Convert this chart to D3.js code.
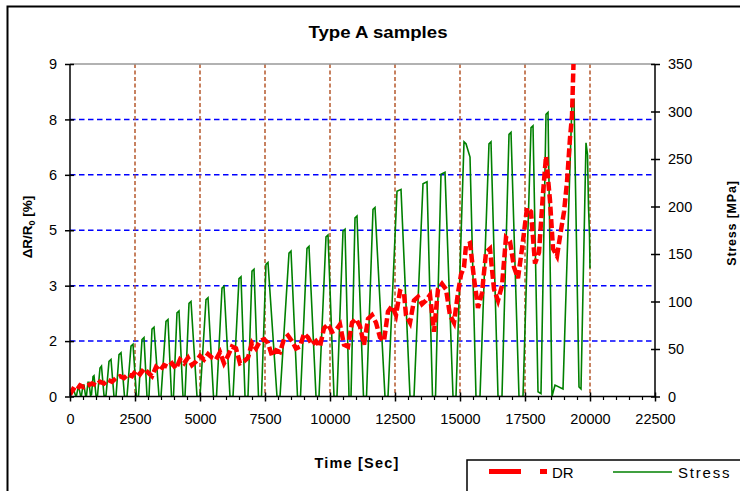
<!DOCTYPE html>
<html>
<head>
<meta charset="utf-8">
<script src="https://cdn.jsdelivr.net/npm/d3@7"></script>
<style>
  html, body { margin: 0; padding: 0; background: #fff; }
  svg { display: block; font-family: "Liberation Sans", Arial, sans-serif; }
</style>
</head>
<body>
<svg id="chart" width="740" height="491"></svg>
<script>
// ---------- data ----------
const title = "Type A samples";
const xTickValues = [0, 2500, 5000, 7500, 10000, 12500, 15000, 17500, 20000, 22500];
const leftTickValues = [0, 1.5, 3, 4.5, 6, 7.5, 9];
const leftTickLabels = ["0", "2", "3", "5", "6", "8", "9"];
const rightTickValues = [0, 50, 100, 150, 200, 250, 300, 350];

// Stress [MPa] vs time [s]
const stressTime = [
  0, 115, 154, 212, 250, 308, 346, 404, 442, 500, 538, 596, 635, 692, 731, 788, 827,
  885, 923, 1000, 1058, 1154, 1211, 1308, 1385, 1500, 1577, 1692, 1769,
  1885, 1962, 2096, 2192, 2346, 2423, 2558, 2635, 2769, 2846, 2962, 3038,
  3154, 3231, 3423, 3500, 3692, 3769, 3904, 3981, 4115, 4192, 4346, 4423,
  4577, 4654, 4885, 5000, 5231, 5308, 5519, 5635, 5846, 5923, 6154, 6269,
  6500, 6577, 6731, 6846, 7000, 7077, 7250, 7365, 7538, 7615, 7962, 8077,
  8423, 8500, 8750, 8865, 9115, 9192, 9462, 9577, 9846, 9923, 10154, 10269,
  10500, 10577, 10731, 10808, 10962, 11038, 11288, 11404, 11654, 11731, 12115, 12231,
  12577, 12731, 13077, 13231, 13577, 13731, 13942, 14058, 14269, 14423, 14731, 14846,
  15154, 15231, 15385, 15615, 15769, 16115, 16192, 16462, 16615,
  16885, 16962, 17269, 17423, 17731, 17808, 18000, 18115,
  18308, 18385, 18538, 18654, 18962, 19308, 19385, 19577, 19654,
  19846, 19904, 19942, 19981, 20000
];
const stressValue = [
  0, 6, 6, 1, 1, 9, 9, 1, 1, 12, 12, 1, 1, 15, 15, 1, 2,
  21, 22, 1, 1, 30, 32, 1, 1, 37, 39, 0, 0,
  44, 46, 0, 0, 53, 55, 0, 0, 60, 62, 0, 0,
  71, 73, 0, 0, 79, 81, 0, 0, 88, 90, 0, 0,
  98, 100, 0, 0, 102, 104, 0, 0, 114, 116, 0, 0,
  124, 126, 0, 0, 132, 134, 0, 0, 139, 141, 0, 0,
  151, 153, 0, 0, 156, 158, 0, 0, 168, 170, 0, 0,
  174, 176, 0, 0, 188, 190, 0, 0, 197, 199, 0, 0,
  216, 218, 0, 0, 224, 226, 0, 0, 234, 236, 0, 0,
  268, 266, 252, 0, 0, 266, 268, 0, 0,
  276, 278, 0, 0, 283, 285, 5, 3,
  297, 299, 0, 12, 8, 310, 312, 10, 8,
  267, 255, 200, 170, 135
];

// DR = ΔR/R0 [%] vs time [s]
const drTime = [
  0, 115, 231, 385, 538, 692, 846, 1000, 1154, 1308, 1462, 1615, 1769, 1923, 2077, 2231,
  2385, 2538, 2692, 2846, 3000, 3154, 3308, 3462, 3615, 3769, 3923, 4077, 4231, 4385,
  4538, 4692, 4846, 5000, 5154, 5308, 5462, 5615, 5769, 5923, 6077, 6231, 6385, 6538,
  6692, 6846, 7000, 7154, 7308, 7462, 7615, 7769, 7923, 8077, 8231, 8385, 8538, 8692,
  8846, 9000, 9154, 9308, 9462, 9615, 9769, 9923, 10077, 10231, 10385, 10538, 10692,
  10846, 11000, 11154, 11308, 11462, 11615, 11769, 11923, 12077, 12231, 12385, 12538,
  12692, 12846, 12923, 13077, 13231, 13385, 13538, 13692, 13846, 14000, 14154, 14308,
  14462, 14615, 14769, 14923, 15038, 15154, 15231, 15385, 15538, 15692, 15846, 16000,
  16154, 16308, 16462, 16615, 16769, 16923, 17077, 17231, 17385, 17577, 17731, 17885,
  18038, 18192, 18308, 18462, 18577, 18731, 18885, 19000, 19115, 19231, 19308, 19385
];
const drValue = [
  0.05, 0.2, 0.15, 0.3, 0.25, 0.3, 0.35, 0.3, 0.4, 0.35, 0.45, 0.4, 0.5, 0.55, 0.5, 0.6,
  0.55, 0.7, 0.6, 0.75, 0.65, 0.55, 0.8, 0.7, 0.85, 0.8, 0.9, 0.75, 1.0, 0.9,
  1.05, 0.85, 0.95, 1.1, 1.0, 1.15, 1.05, 1.0, 1.2, 0.9, 1.1, 1.35, 1.3, 0.9,
  0.95, 1.05, 1.45, 1.3, 1.5, 1.55, 1.45, 1.1, 1.25, 1.2, 1.55, 1.65, 1.5, 1.3,
  1.35, 1.7, 1.6, 1.4, 1.5, 1.35, 1.85, 1.95, 1.75, 1.8, 1.95, 1.4, 1.35,
  2.0, 2.1, 1.9, 1.4, 2.1, 2.2, 2.0, 1.6, 1.5, 2.3, 2.45, 2.2,
  2.85, 2.8, 2.2, 2.0, 2.6, 2.7, 2.5, 2.6, 2.75, 1.75, 2.9, 3.05,
  2.9, 2.2, 2.0, 2.8, 3.3, 3.5, 4.1, 4.15, 3.2, 2.4, 2.8, 3.9,
  4.0, 2.9, 2.6, 3.0, 4.3, 4.2, 3.5, 3.2, 4.0, 5.1, 5.0, 3.6,
  3.9, 5.5, 6.5, 5.3, 4.0, 3.8, 4.5, 5.0, 5.8, 7.0, 7.6, 9.5
];

const seriesNames = ["DR", "Stress"];

// ---------- drawing ----------
const svg = d3.select("#chart");
const L = 70, R = 655, T = 64, B = 396.5;

const x = d3.scaleLinear().domain([0, 22500]).range([L, R]);
const yL = d3.scaleLinear().domain([0, 9]).range([B, T]);
const yR = d3.scaleLinear().domain([0, 350]).range([B, T]);

// outer frame
svg.append("rect").attr("x", 7.5).attr("y", 6.5).attr("width", 800).attr("height", 600)
  .attr("fill", "none").attr("stroke", "#000").attr("stroke-width", 2);

// title
svg.append("text").attr("x", 378).attr("y", 38).attr("text-anchor", "middle")
  .attr("font-size", 16.5).attr("font-weight", "bold")
  .attr("textLength", 139).attr("lengthAdjust", "spacingAndGlyphs").text(title);

// grid: horizontal (blue dashed)
svg.append("g").selectAll("line").data(leftTickValues.filter(v => v > 0 && v < 9)).join("line")
  .attr("x1", L).attr("x2", R).attr("y1", d => yL(d)).attr("y2", d => yL(d))
  .attr("stroke", "#0000ff").attr("stroke-width", 1.5).attr("stroke-dasharray", "5.5,3.5");

// grid: vertical (brown dashed)
svg.append("g").selectAll("line").data(xTickValues.filter(v => v > 0 && v < 22500)).join("line")
  .attr("x1", d => x(d)).attr("x2", d => x(d)).attr("y1", T).attr("y2", B)
  .attr("stroke", "#b5582c").attr("stroke-width", 1.5).attr("stroke-dasharray", "4,2.5");

// top border
svg.append("line").attr("x1", L).attr("x2", R).attr("y1", T).attr("y2", T)
  .attr("stroke", "#999").attr("stroke-width", 1.5);

// clip
svg.append("clipPath").attr("id", "plotclip").append("rect")
  .attr("x", L).attr("y", T).attr("width", R - L).attr("height", B - T);

// stress line
const stressData = stressTime.map((t, i) => [t, stressValue[i]]);
svg.append("path").datum(stressData)
  .attr("clip-path", "url(#plotclip)")
  .attr("fill", "none").attr("stroke", "#008000").attr("stroke-width", 1.6)
  .attr("stroke-linejoin", "miter")
  .attr("d", d3.line().x(d => x(d[0])).y(d => yR(d[1])));

// DR line
const drData = drTime.map((t, i) => [t, drValue[i]]);
svg.append("path").datum(drData)
  .attr("clip-path", "url(#plotclip)")
  .attr("fill", "none").attr("stroke", "#ff0000").attr("stroke-width", 4.5)
  .attr("stroke-dasharray", "9,3.5")
  .attr("d", d3.line().x(d => x(d[0])).y(d => yL(d[1])));

// axes
const fs = 14.5;
const gx = svg.append("g").attr("transform", `translate(0,${B})`)
  .call(d3.axisBottom(x).tickValues(xTickValues).tickFormat(d3.format("d")).tickSize(5).tickPadding(13));
const gxMinor = svg.append("g").attr("transform", `translate(0,${B})`)
  .call(d3.axisBottom(x).tickValues(d3.range(500, 22500, 500).filter(v => v % 2500 !== 0)).tickFormat("").tickSize(3.5));
gxMinor.select(".domain").remove();

const gl = svg.append("g").attr("transform", `translate(${L},0)`)
  .call(d3.axisLeft(yL).tickValues(leftTickValues).tickFormat((d, i) => leftTickLabels[i]).tickSize(5).tickPadding(8));
const gr = svg.append("g").attr("transform", `translate(${R},0)`)
  .call(d3.axisRight(yR).tickValues(rightTickValues).tickFormat(d3.format("d")).tickSize(5).tickPadding(8));

[gx, gl, gr].forEach(g => {
  g.select(".domain").attr("stroke", "#000").attr("stroke-width", 1.5)
    .attr("d", g === gx ? `M${L},0H${R}` : `M0,${T}V${B}`);
  g.selectAll(".tick text").attr("font-size", fs).attr("fill", "#000")
    .attr("font-family", "Liberation Sans, Arial, sans-serif");
  g.selectAll(".tick line").attr("stroke", "#000").attr("stroke-width", 1.5);
});
gxMinor.selectAll(".tick line").attr("stroke", "#000").attr("stroke-width", 1.2);
// crossing ticks
gx.selectAll(".tick line").attr("y1", -4).attr("y2", 5);
gl.selectAll(".tick line").attr("x1", 4).attr("x2", -5);
gr.selectAll(".tick line").attr("x1", -4).attr("x2", 5);
gx.selectAll(".tick text").attr("y", 17);

// axis titles
svg.append("text").attr("x", 357).attr("y", 468).attr("text-anchor", "middle")
  .attr("font-size", 14.5).attr("font-weight", "bold").attr("letter-spacing", 1.2)
  .text("Time [Sec]");

const yt = svg.append("text").attr("transform", "translate(32,227) rotate(-90)")
  .attr("text-anchor", "middle").attr("font-size", 13.5).attr("font-weight", "bold");
yt.append("tspan").text("\u0394R/R");
yt.append("tspan").attr("font-size", 9).attr("dy", 3).text("0");
yt.append("tspan").attr("dy", -3).text(" [%]");

svg.append("text").attr("transform", "translate(736,223) rotate(-90)")
  .attr("text-anchor", "middle").attr("font-size", 12.5).attr("font-weight", "bold")
  .attr("letter-spacing", 0.8).text("Stress [MPa]");

// legend
const lg = svg.append("g");
lg.append("rect").attr("x", 467).attr("y", 460).attr("width", 320).attr("height", 60)
  .attr("fill", "#fff").attr("stroke", "#000").attr("stroke-width", 1.5);
lg.append("line").attr("x1", 489).attr("x2", 547).attr("y1", 471.5).attr("y2", 471.5)
  .attr("stroke", "#ff0000").attr("stroke-width", 5).attr("stroke-dasharray", "32,19");
lg.append("text").attr("x", 552).attr("y", 478).attr("font-size", 15).text(seriesNames[0]);
lg.append("line").attr("x1", 613).attr("x2", 672).attr("y1", 472).attr("y2", 472)
  .attr("stroke", "#008000").attr("stroke-width", 1.5);
lg.append("text").attr("x", 678).attr("y", 478).attr("font-size", 15)
  .attr("letter-spacing", 1.8).text(seriesNames[1]);
</script>
</body>
</html>
